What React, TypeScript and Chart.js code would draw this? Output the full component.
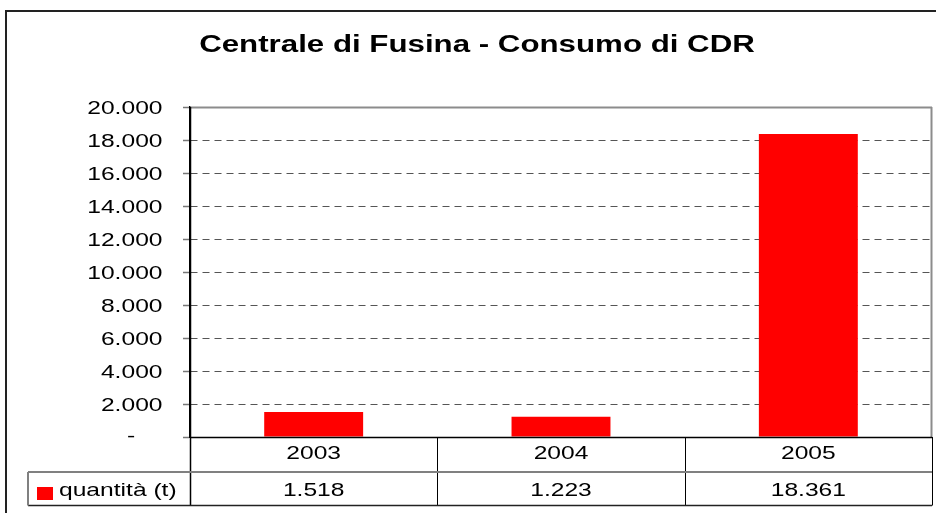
import React, { useEffect, useRef } from 'react';
import { Chart, registerables } from 'chart.js';

Chart.register(...registerables);

const TITLE = 'Centrale di Fusina - Consumo di CDR';
const categories = ['2003', '2004', '2005'];
const seriesLabel = 'quantità (t)';
const values = [1518, 1223, 18361];
const Y_MIN = 0;
const Y_MAX = 20000;
const Y_STEP = 2000;

const RED = '#ff0000';
const FONT_FAMILY = '"Liberation Sans", Arial, sans-serif';
const SX = 1.33; // horizontal stretch of the reference text

const fmt = (v: number) =>
  String(Math.round(v)).replace(/\B(?=(\d{3})+(?!\d))/g, '.');

function drawText(
  ctx: CanvasRenderingContext2D,
  text: string,
  x: number,
  baseline: number,
  align: 'left' | 'center' | 'right',
  size: number,
  bold = false,
  color = '#000'
) {
  ctx.save();
  ctx.font = `${bold ? 'bold ' : ''}${size}px ${FONT_FAMILY}`;
  ctx.fillStyle = color;
  ctx.textBaseline = 'alphabetic';
  ctx.textAlign = 'left';
  const w = ctx.measureText(text).width * SX;
  const left = align === 'center' ? x - w / 2 : align === 'right' ? x - w : x;
  ctx.translate(left, baseline);
  ctx.scale(SX, 1);
  ctx.fillText(text, 0, 0);
  ctx.restore();
}

function line(
  ctx: CanvasRenderingContext2D,
  x1: number,
  y1: number,
  x2: number,
  y2: number,
  color: string,
  width: number
) {
  ctx.save();
  ctx.strokeStyle = color;
  ctx.lineWidth = width;
  ctx.setLineDash([]);
  ctx.beginPath();
  ctx.moveTo(x1, y1);
  ctx.lineTo(x2, y2);
  ctx.stroke();
  ctx.restore();
}

const decorPlugin = {
  id: 'decor',
  afterDraw(chart: any) {
    const ctx: CanvasRenderingContext2D = chart.ctx;
    const { left, right, top, bottom } = chart.chartArea;
    const xs = chart.scales.x;
    const ys = chart.scales.y;
    const fs = 18.5;

    // outer frame
    ctx.save();
    ctx.strokeStyle = '#222';
    ctx.lineWidth = 2;
    ctx.strokeRect(6, 11, 1000, 1000);
    ctx.restore();

    // title
    drawText(ctx, TITLE, 477, 52, 'center', 23.5, true);

    // plot frame (top and right)
    line(ctx, left, top + 0.5, right, top + 0.5, '#8c8c8c', 2);
    line(ctx, right - 0.5, top, right - 0.5, bottom, '#8c8c8c', 2);

    // y tick labels
    const labelRight = left - 27.5;
    ctx.save();
    ctx.font = `${fs}px ${FONT_FAMILY}`;
    const twoDigits = ctx.measureText('00').width * SX;
    ctx.restore();
    ys.ticks.forEach((t: any) => {
      const y = ys.getPixelForValue(t.value);
      if (t.value === 0) {
        drawText(ctx, '-', labelRight - twoDigits, y + 0.36 * fs - 1.5, 'right', fs);
      } else {
        drawText(ctx, fmt(t.value), labelRight, y + 0.36 * fs, 'right', fs);
      }
    });

    // data table
    const n = categories.length;
    const catW = (right - left) / n;
    const row1Bottom = bottom + 35;
    const row2Bottom = row1Bottom + 33.5;
    const legendLeft = 28;

    // x axis line
    line(ctx, left, bottom + 0.5, right, bottom + 0.5, '#000', 1.5);
    // left axis extended through table
    line(ctx, left + 0.5, top, left + 0.5, row2Bottom, '#000', 1.5);
    // column boundaries
    for (let i = 0; i < n; i++) {
      const cx = xs.getPixelForValue(i);
      const bx = cx + catW / 2;
      line(ctx, Math.round(bx) + 0.5, bottom, Math.round(bx) + 0.5, row2Bottom, '#000', 1);
    }
    // row separator
    line(ctx, legendLeft, row1Bottom, right, row1Bottom, '#808080', 2);
    // bottom line
    line(ctx, legendLeft, row2Bottom, right, row2Bottom, '#222', 1.5);
    // legend cell left border
    line(ctx, legendLeft, row1Bottom, legendLeft, row2Bottom, '#808080', 2);

    // legend swatch and text
    ctx.save();
    ctx.fillStyle = RED;
    ctx.fillRect(37, row1Bottom + 15, 16, 13);
    ctx.restore();
    const row2Base = row1Bottom + 23.5;
    drawText(ctx, seriesLabel, 59, row2Base, 'left', fs);

    // category labels and values
    categories.forEach((c, i) => {
      const cx = xs.getPixelForValue(i);
      drawText(ctx, c, cx, bottom + 22, 'center', fs);
      drawText(ctx, fmt(values[i]), cx, row2Base, 'center', fs);
    });
  },
};

export default function App() {
  const ref = useRef<HTMLCanvasElement>(null);

  useEffect(() => {
    if (!ref.current) return;
    const chart = new Chart(ref.current, {
      type: 'bar',
      data: {
        labels: categories,
        datasets: [
          {
            label: seriesLabel,
            data: values,
            backgroundColor: RED,
            borderWidth: 0,
            barPercentage: 0.4,
            categoryPercentage: 1.0,
          },
        ],
      },
      options: {
        responsive: false,
        animation: false,
        devicePixelRatio: 1,
        layout: { padding: { top: 107, right: 4, bottom: 76, left: 0 } },
        plugins: {
          legend: { display: false },
          title: { display: false },
          tooltip: { enabled: false },
        },
        scales: {
          x: {
            display: false,
            grid: { display: false },
          },
          y: {
            min: Y_MIN,
            max: Y_MAX,
            ticks: { stepSize: Y_STEP, display: false },
            afterFit: (scale: any) => {
              scale.width = 190;
            },
            grid: {
              color: (c: any) =>
                c.tick && (c.tick.value === Y_MIN || c.tick.value === Y_MAX)
                  ? 'rgba(0,0,0,0)'
                  : '#555',
              lineWidth: 1,
              tickLength: 7,
              tickColor: '#777',
              tickWidth: 1.5,
              drawTicks: true,
            },
            border: { display: true, color: '#000', width: 1.5, dash: [7, 5] },
          },
        },
      },
      plugins: [decorPlugin],
    });
    return () => chart.destroy();
  }, []);

  return (
    <div style={{ position: 'absolute', left: 0, top: 0, width: 936, height: 513 }}>
      <canvas ref={ref} width={936} height={513} />
    </div>
  );
}
